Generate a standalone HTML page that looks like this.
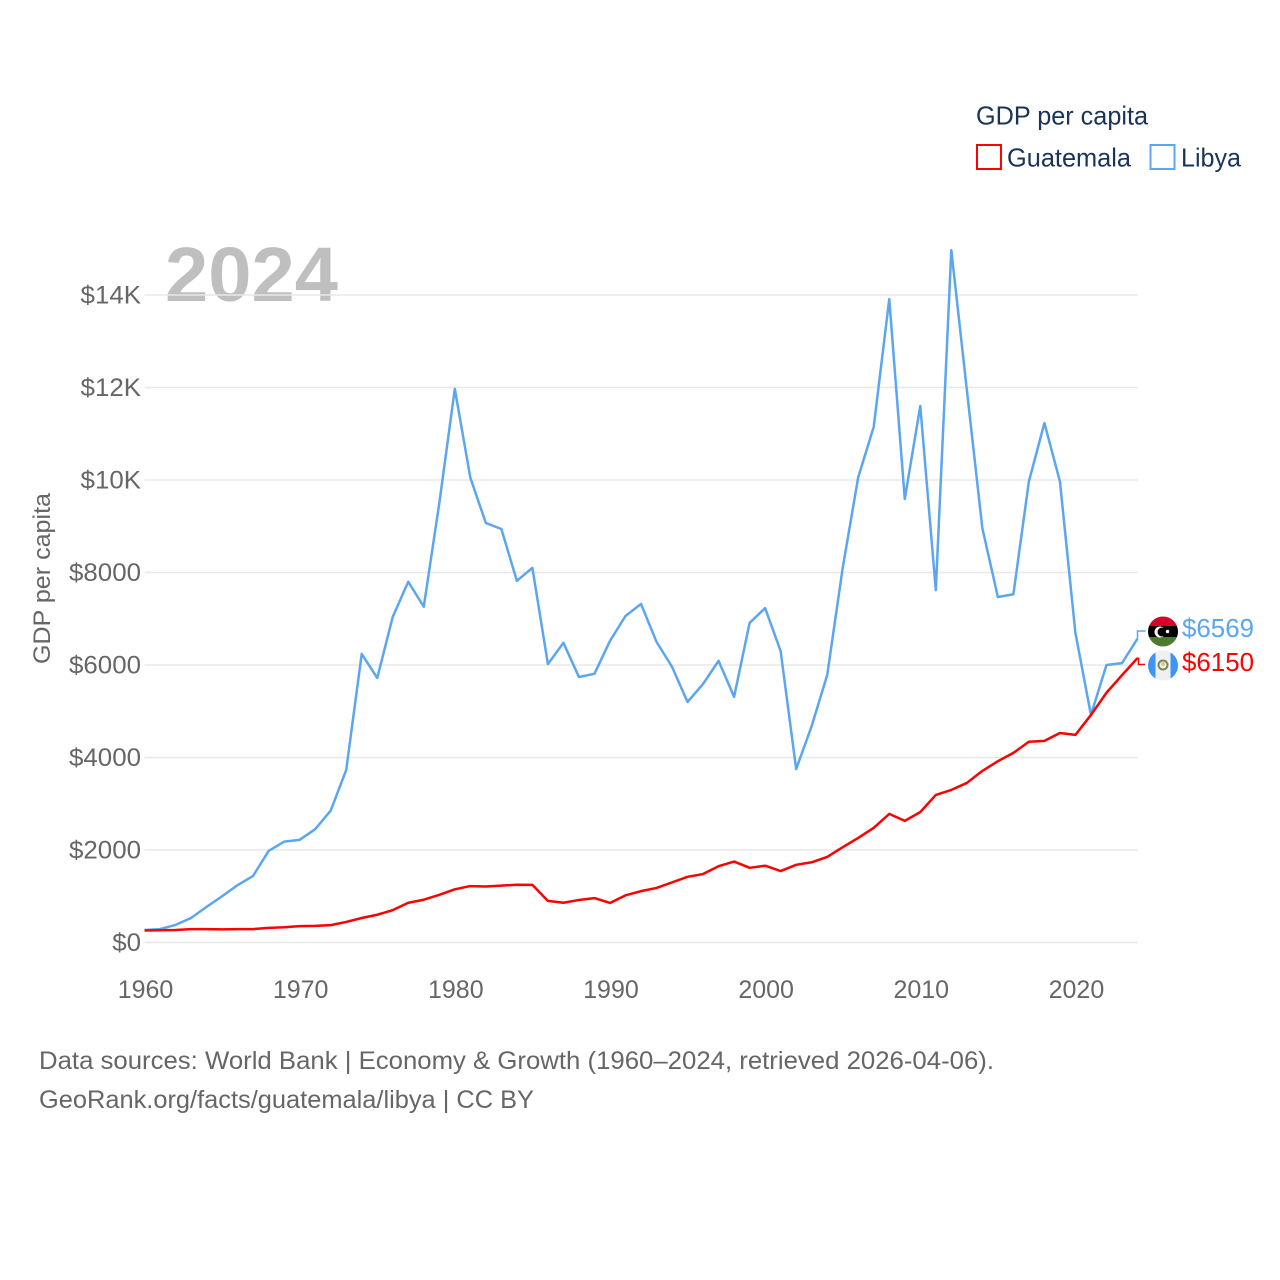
<!DOCTYPE html>
<html lang="en">
<head>
<meta charset="utf-8">
<title>GDP per capita: Guatemala and Libya</title>
<style>
html,body{margin:0;padding:0;background:#fff}
svg{display:block}
text{font-family:"Liberation Sans",sans-serif}
</style>
</head>
<body>
<svg id="chart" width="1280" height="1280" viewBox="0 0 1280 1280" xmlns="http://www.w3.org/2000/svg">
  <rect width="1280" height="1280" fill="#fff"/>
  <defs>
    <clipPath id="libya-clip"><circle id="libya-clip-circle" cx="1163" cy="631.5" r="15"/></clipPath>
    <clipPath id="guatemala-clip"><circle id="guatemala-clip-circle" cx="1163" cy="665.5" r="15"/></clipPath>
  </defs>
  <text x="165" y="301" font-size="77" font-weight="700" fill="#bfbfbf" textLength="173" lengthAdjust="spacingAndGlyphs">2024</text>
  <g id="grid"></g>
  <g id="y-axis"></g>
  <g id="x-axis"></g>
  <text transform="translate(50,578.5) rotate(-90)" text-anchor="middle" font-size="24.500" fill="#666" textLength="171" lengthAdjust="spacingAndGlyphs">GDP per capita</text>
  <g id="series"></g>
  <g id="end-labels"></g>

  <g clip-path="url(#libya-clip)">
    <rect x="1148" y="616" width="30" height="10" fill="#d8002a"/>
    <rect x="1148" y="626" width="30" height="11" fill="#000"/>
    <rect x="1148" y="637" width="30" height="11" fill="#4d7a31"/>
    <circle cx="1160" cy="632" r="5.500" fill="#fff"/>
    <circle cx="1162" cy="632" r="4.500" fill="#000"/>
    <circle cx="1167.500" cy="631.500" r="1.700" fill="#fff"/>
  </g>
  <g clip-path="url(#guatemala-clip)">
    <rect x="1148" y="650" width="30" height="31" fill="#eef0f3"/>
    <rect x="1148" y="650" width="7.500" height="31" fill="#3f95f5"/>
    <rect x="1170.500" y="650" width="7.500" height="31" fill="#3f95f5"/>
    <circle cx="1163" cy="665" r="4.500" fill="none" stroke="#7b8a55" stroke-width="2"/>
    <circle cx="1163" cy="664" r="2" fill="#d8c98d"/>
  </g>

  <text x="976" y="124.500" font-size="26" fill="#1a3358" textLength="172" lengthAdjust="spacingAndGlyphs">GDP per capita</text>
  <rect x="977" y="145" width="24" height="24" fill="#fff" stroke="#ff0000" stroke-width="2"/>
  <text x="1007" y="166.500" font-size="26" fill="#1a3358" textLength="124" lengthAdjust="spacingAndGlyphs">Guatemala</text>
  <rect x="1150.500" y="145" width="24" height="24" fill="#fff" stroke="#5ca6f0" stroke-width="2"/>
  <text x="1181" y="166.500" font-size="26" fill="#1a3358" textLength="60" lengthAdjust="spacingAndGlyphs">Libya</text>

  <text x="39" y="1069" font-size="25" fill="#666" textLength="955" lengthAdjust="spacingAndGlyphs">Data sources: World Bank | Economy &amp; Growth (1960–2024, retrieved 2026-04-06).</text>
  <text x="39" y="1108" font-size="25" fill="#666" textLength="495" lengthAdjust="spacingAndGlyphs">GeoRank.org/facts/guatemala/libya | CC BY</text>
</svg>
<script>
const years = [1960,1961,1962,1963,1964,1965,1966,1967,1968,1969,1970,1971,1972,1973,1974,1975,1976,1977,1978,1979,1980,1981,1982,1983,1984,1985,1986,1987,1988,1989,1990,1991,1992,1993,1994,1995,1996,1997,1998,1999,2000,2001,2002,2003,2004,2005,2006,2007,2008,2009,2010,2011,2012,2013,2014,2015,2016,2017,2018,2019,2020,2021,2022,2023,2024];
const libyaValues = [270,290,380,530,770,1000,1240,1440,1980,2180,2220,2450,2850,3730,6240,5720,7040,7800,7260,9500,11970,10050,9070,8940,7820,8100,6020,6480,5740,5810,6520,7060,7320,6500,5960,5200,5590,6090,5310,6910,7230,6300,3750,4680,5780,8100,10060,11150,13910,9590,11600,7620,14970,11950,8960,7470,7530,9970,11230,9970,6690,4920,6000,6040,6569];
const guatemalaValues = [260,265,270,290,290,285,290,290,315,330,355,360,375,445,530,600,700,860,925,1030,1150,1220,1210,1230,1250,1245,900,860,920,960,855,1020,1110,1180,1300,1420,1480,1650,1750,1615,1660,1545,1680,1735,1850,2060,2260,2480,2780,2630,2820,3190,3300,3450,3710,3920,4100,4340,4360,4530,4490,4920,5400,5780,6150];
const yTickValues = [0,2000,4000,6000,8000,10000,12000,14000];
const yTickLabels = ['$0','$2000','$4000','$6000','$8000','$10K','$12K','$14K'];
const xTickValues = [1960,1970,1980,1990,2000,2010,2020];

const SVG_NS = 'http://www.w3.org/2000/svg';
const xScale = function (year) { return 144.5 + (year - 1960) * (1137.5 - 144.5) / 64; };
const yScale = function (value) { return 942.5 - value * 647.5 / 14000; };

const gridGroup = document.getElementById('grid');
const yAxisGroup = document.getElementById('y-axis');
const xAxisGroup = document.getElementById('x-axis');
const seriesGroup = document.getElementById('series');
const labelGroup = document.getElementById('end-labels');

yTickValues.forEach(function (value, i) {
  const line = document.createElementNS(SVG_NS, 'line');
  
  
  line.setAttribute('x1', xScale(1960));
  line.setAttribute('x2', xScale(2024));
  line.setAttribute('y1', yScale(value));
  line.setAttribute('y2', yScale(value));
  line.setAttribute('stroke', '#e8e8e8');
  line.setAttribute('stroke-width', '1.5');
  gridGroup.appendChild(line);

  const label = document.createElementNS(SVG_NS, 'text');
  
  
  label.setAttribute('x', 141);
  label.setAttribute('y', yScale(value) + 8.5);
  label.setAttribute('text-anchor', 'end');
  label.setAttribute('font-size', '25');
  label.setAttribute('fill', '#666');
  label.textContent = yTickLabels[i];
  yAxisGroup.appendChild(label);
  label.setAttribute('textLength', (label.getComputedTextLength() * 1.035).toFixed(2));
  label.setAttribute('lengthAdjust', 'spacingAndGlyphs');
});

xTickValues.forEach(function (year) {
  const label = document.createElementNS(SVG_NS, 'text');
  
  
  label.setAttribute('x', xScale(year) + 1);
  label.setAttribute('y', 998);
  label.setAttribute('text-anchor', 'middle');
  label.setAttribute('font-size', '25');
  label.setAttribute('fill', '#666');
  label.textContent = String(year);
  xAxisGroup.appendChild(label);
});

function linePoints(values) {
  return values.map(function (value, i) {
    return xScale(years[i]).toFixed(2) + ',' + yScale(value).toFixed(2);
  }).join(' ');
}

const libyaLine = document.createElementNS(SVG_NS, 'polyline');


libyaLine.setAttribute('points', linePoints(libyaValues));
libyaLine.setAttribute('fill', 'none');
libyaLine.setAttribute('stroke', '#5ca6f0');
libyaLine.setAttribute('stroke-width', '2.5');
libyaLine.setAttribute('stroke-linejoin', 'round');
seriesGroup.appendChild(libyaLine);

const guatemalaLine = document.createElementNS(SVG_NS, 'polyline');


guatemalaLine.setAttribute('points', linePoints(guatemalaValues));
guatemalaLine.setAttribute('fill', 'none');
guatemalaLine.setAttribute('stroke', '#ff0000');
guatemalaLine.setAttribute('stroke-width', '2.5');
guatemalaLine.setAttribute('stroke-linejoin', 'round');
seriesGroup.appendChild(guatemalaLine);

const lastLibya = libyaValues[libyaValues.length - 1];
const lastGuatemala = guatemalaValues[guatemalaValues.length - 1];
const endX = xScale(2024);

const libyaLeader = document.createElementNS(SVG_NS, 'polyline');


libyaLeader.setAttribute('points', endX + ',' + yScale(lastLibya) + ' ' + endX + ',631 ' + (endX + 8) + ',631');
libyaLeader.setAttribute('fill', 'none');
libyaLeader.setAttribute('stroke', '#5ca6f0');
libyaLeader.setAttribute('stroke-width', '1.5');
labelGroup.appendChild(libyaLeader);

const guatemalaLeader = document.createElementNS(SVG_NS, 'polyline');


guatemalaLeader.setAttribute('points', endX + ',' + yScale(lastGuatemala) + ' ' + (endX + 1) + ',' + yScale(lastGuatemala) + ' ' + (endX + 1) + ',664.5 ' + (endX + 7.5) + ',664.5');
guatemalaLeader.setAttribute('fill', 'none');
guatemalaLeader.setAttribute('stroke', '#ff0000');
guatemalaLeader.setAttribute('stroke-width', '1.5');
labelGroup.appendChild(guatemalaLeader);

const libyaValueLabel = document.createElementNS(SVG_NS, 'text');


libyaValueLabel.setAttribute('x', 1182);
libyaValueLabel.setAttribute('y', 637);
libyaValueLabel.setAttribute('font-size', '26');
libyaValueLabel.setAttribute('fill', '#5ca6f0');
libyaValueLabel.setAttribute('textLength', '72');
libyaValueLabel.setAttribute('lengthAdjust', 'spacingAndGlyphs');
libyaValueLabel.textContent = '$' + lastLibya;
labelGroup.appendChild(libyaValueLabel);

const guatemalaValueLabel = document.createElementNS(SVG_NS, 'text');


guatemalaValueLabel.setAttribute('x', 1182);
guatemalaValueLabel.setAttribute('y', 671);
guatemalaValueLabel.setAttribute('font-size', '26');
guatemalaValueLabel.setAttribute('fill', '#ff0000');
guatemalaValueLabel.setAttribute('textLength', '72');
guatemalaValueLabel.setAttribute('lengthAdjust', 'spacingAndGlyphs');
guatemalaValueLabel.textContent = '$' + lastGuatemala;
labelGroup.appendChild(guatemalaValueLabel);
</script>
</body>
</html>
